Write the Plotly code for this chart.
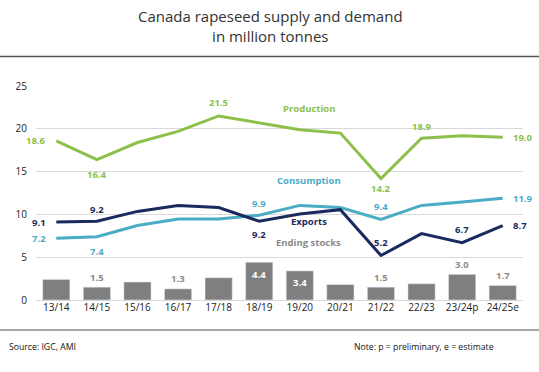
import plotly.graph_objects as go

seasons = ["13/14", "14/15", "15/16", "16/17", "17/18", "18/19", "19/20",
           "20/21", "21/22", "22/23", "23/24p", "24/25e"]
production = [18.6, 16.4, 18.4, 19.7, 21.5, 20.7, 19.9, 19.5, 14.2, 18.9, 19.2, 19.0]
consumption = [7.2, 7.4, 8.7, 9.45, 9.45, 9.9, 11.05, 10.8, 9.4, 11.05, 11.45, 11.9]
exports = [9.1, 9.2, 10.35, 11.05, 10.8, 9.2, 10.05, 10.55, 5.2, 7.75, 6.7, 8.7]
ending_stocks = [2.4, 1.5, 2.1, 1.3, 2.6, 4.4, 3.4, 1.8, 1.5, 1.9, 3.0, 1.7]

y_ticks = [0, 5, 10, 15, 20, 25]

C_PROD = "#8dc04b"
C_CONS = "#4bacc6"
C_EXP = "#1b2a5e"
C_STK = "#7f7f7f"
C_STK_TXT = "#8a8a8a"
FONT = "Open Sans"

fig = go.Figure()
fig.add_trace(go.Bar(x=seasons, y=ending_stocks, marker_color=C_STK, width=0.67,
                     name="Ending stocks", hoverinfo="skip"))
for vals, col, nm in [(consumption, C_CONS, "Consumption"),
                      (exports, C_EXP, "Exports"),
                      (production, C_PROD, "Production")]:
    fig.add_trace(go.Scatter(x=seasons, y=vals, mode="lines", name=nm,
                             line=dict(color=col, width=3)))

ann = []

def lab(i, vals, col, pos, shift=13):
    v = vals[i]
    d = dict(x=i, y=v, xref="x", yref="y", text="<b>%.1f</b>" % v,
             showarrow=False, font=dict(family=FONT, size=9.5, color=col))
    if pos == "left":
        d.update(xanchor="right", yanchor="middle", xshift=-8)
    elif pos == "right":
        d.update(xanchor="left", yanchor="middle", xshift=8)
    elif pos == "above":
        d.update(xanchor="center", yanchor="middle", yshift=shift)
    elif pos == "below":
        d.update(xanchor="center", yanchor="middle", yshift=-shift)
    ann.append(d)

# Production labels
lab(0, production, C_PROD, "left")
lab(1, production, C_PROD, "below", 15)
lab(4, production, C_PROD, "above", 13)
lab(8, production, C_PROD, "below", 10)
lab(9, production, C_PROD, "above", 12)
lab(11, production, C_PROD, "right")
# Consumption labels
lab(0, consumption, C_CONS, "left")
lab(1, consumption, C_CONS, "below", 15)
lab(5, consumption, C_CONS, "above", 12)
lab(8, consumption, C_CONS, "above", 13)
lab(11, consumption, C_CONS, "right")
# Exports labels
lab(0, exports, C_EXP, "left")
lab(1, exports, C_EXP, "above", 12)
lab(5, exports, C_EXP, "below", 13)
lab(8, exports, C_EXP, "above", 13)
lab(10, exports, C_EXP, "above", 13)
lab(11, exports, C_EXP, "right")
# Ending stocks labels
for i in [1, 3, 8, 10, 11]:
    lab(i, ending_stocks, C_STK_TXT, "above", 10)
for i in [5, 6]:
    lab(i, ending_stocks, "#ffffff", "below", 12)

# Series names
for txt, yv, col in [("Production", 22.4, C_PROD), ("Consumption", 13.95, C_CONS),
                     ("Exports", 9.2, C_EXP), ("Ending stocks", 6.75, C_STK_TXT)]:
    ann.append(dict(x=6.22, y=yv, xref="x", yref="y", text="<b>%s</b>" % txt,
                    showarrow=False, xanchor="center", yanchor="middle",
                    font=dict(family=FONT, size=9.5, color=col)))

L, R, T, B = 36, 16, 86, 71.5
W, H = 539, 372
pw, ph = W - L - R, H - T - B

def px(xp):
    return (xp - L) / pw

def py(yp):
    return (H - B - yp) / ph

ann.append(dict(x=px(270), y=py(26), xref="paper", yref="paper",
                text="Canada rapeseed supply and demand<br>in million tonnes",
                showarrow=False, xanchor="center", yanchor="middle",
                font=dict(family=FONT, size=15, color="#333333")))
ann.append(dict(x=px(7), y=py(348), xref="paper", yref="paper", text="Source: IGC, AMI",
                showarrow=False, xanchor="left", yanchor="middle",
                font=dict(family=FONT, size=8.7, color="#111111")))
ann.append(dict(x=px(496), y=py(348), xref="paper", yref="paper",
                text="Note: p = preliminary, e = estimate",
                showarrow=False, xanchor="right", yanchor="middle",
                font=dict(family=FONT, size=8.7, color="#111111")))

shapes = [
    dict(type="line", xref="paper", yref="paper", x0=px(0), x1=px(W), y0=py(56.5), y1=py(56.5),
         line=dict(color="#555555", width=1.5)),
    dict(type="line", xref="paper", yref="paper", x0=px(0), x1=px(W), y0=py(330.5), y1=py(330.5),
         line=dict(color="#8a8a8a", width=1.5)),
]

fig.update_layout(
    width=W, height=H,
    margin=dict(l=L, r=R, t=T, b=B, pad=0),
    paper_bgcolor="white", plot_bgcolor="white",
    showlegend=False,
    annotations=ann, shapes=shapes,
    font=dict(family=FONT, size=10, color="#222222"),
    xaxis=dict(type="category", range=[-0.5, 11.5], showgrid=False, showline=False,
               ticks="", tickfont=dict(family=FONT, size=10, color="#222222")),
    yaxis=dict(range=[0, 25], tickvals=y_ticks, showgrid=True, gridcolor="#d9d9d9",
               gridwidth=1, zeroline=True, zerolinecolor="#d9d9d9", zerolinewidth=1,
               showline=False, ticks="", ticklabelstandoff=8,
               tickfont=dict(family=FONT, size=10, color="#222222")),
    bargap=0.33,
)

fig.write_html("out.html", config={"displayModeBar": False},
               post_script="document.body.style.margin='0';document.body.style.overflow='hidden';")
